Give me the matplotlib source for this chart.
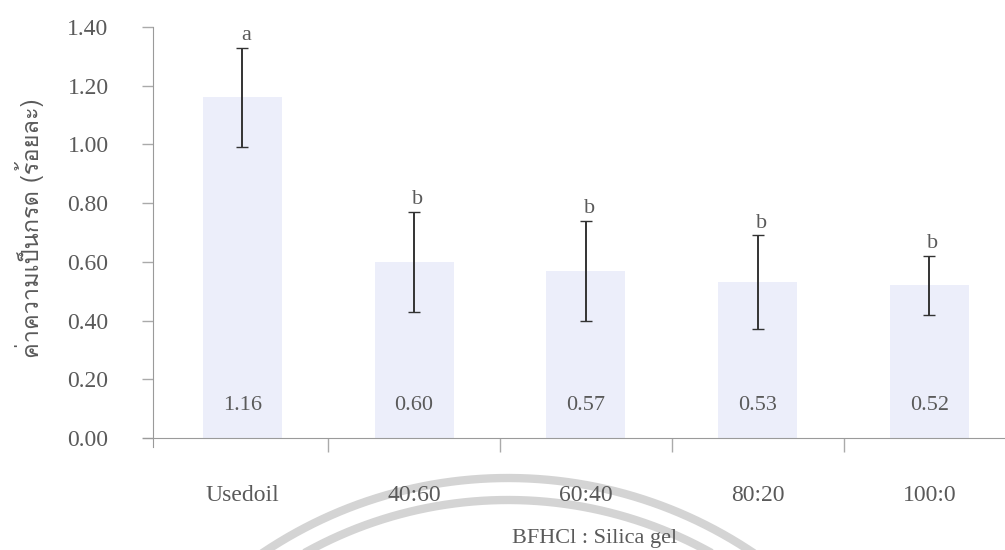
import numpy as np
import matplotlib
matplotlib.use('Agg')
import matplotlib.pyplot as plt
from matplotlib import font_manager
from matplotlib.ft2font import FT2Font

categories = ['Usedoil', '40:60', '60:40', '80:20', '100:0']
acid_value = [1.16, 0.60, 0.57, 0.53, 0.52]
error = [0.17, 0.17, 0.17, 0.16, 0.10]
letters = ['a', 'b', 'b', 'b', 'b']
value_labels = ['1.16', '0.60', '0.57', '0.53', '0.52']
y_ticks = [0.0, 0.2, 0.4, 0.6, 0.8, 1.0, 1.2, 1.4]


def thai_family():
    # pick an installed font that has Thai glyphs
    for f in font_manager.fontManager.ttflist:
        try:
            cmap = FT2Font(f.fname).get_charmap()
        except Exception:
            continue
        if ord('ค') in cmap and ord('ร') in cmap:
            return f.name
    return 'DejaVu Sans'


serif = 'Liberation Serif'
text_color = '#5a5a5a'

fig = plt.figure(figsize=(10.05, 5.5), dpi=100)
ax = fig.add_axes([153 / 1005, 112 / 550, 852 / 1005, 411 / 550])

x = np.arange(len(categories))
ax.bar(x, acid_value, width=0.46, color='#eceefa', edgecolor='none', zorder=1)
ax.errorbar(x, acid_value, yerr=error, fmt='none', ecolor='#333333',
            elinewidth=1.4, capsize=4, capthick=1.0, zorder=3)

for i in range(len(categories)):
    ax.text(x[i], 0.11, value_labels[i], ha='center', va='center',
            fontsize=16, family=serif, color=text_color)
    ax.text(x[i] + 0.02, acid_value[i] + error[i] + 0.01, letters[i],
            ha='center', va='bottom', fontsize=16, family=serif, color=text_color)

for s in ['top', 'right']:
    ax.spines[s].set_visible(False)
ax.spines['left'].set_color('#9a9a9a')
ax.spines['bottom'].set_color('#9a9a9a')

ax.set_xlim(-0.52, 4.44)
ax.set_ylim(0, 1.40)
ax.spines['left'].set_bounds(-0.03, 1.40)
ax.spines['bottom'].set_bounds(-0.58, 4.44)

ax.set_yticks(y_ticks)
ax.set_yticklabels(['%.2f' % v for v in y_ticks], family=serif, fontsize=17,
                   color=text_color)
ax.set_xticks(x)
ax.set_xticklabels(categories, family=serif, fontsize=17, color=text_color)
ax.set_xticks(x[:-1] + 0.5, minor=True)
ax.tick_params(axis='x', which='major', length=0, pad=34)
ax.tick_params(axis='x', which='minor', length=10, color='#aaaaaa', width=1)
ax.tick_params(axis='y', length=8, color='#aaaaaa', width=1, pad=24)

ax.set_ylabel('ค่าความเป็นกรด (ร้อยละ)', family=[thai_family(), 'DejaVu Sans'],
              fontsize=17, color=text_color)
ax.yaxis.set_label_coords(-0.128, 0.51)

fig.text(595 / 1005, 12 / 550, 'BFHCl : Silica gel', ha='center', va='center',
         family=serif, fontsize=16, color=text_color)

# faint watermark arcs at the bottom of the scan
t = np.linspace(np.pi * 0.85, np.pi * 0.15, 300)
for r in [439, 417]:
    px = 508 + r * np.cos(t)
    py = (550 - 917) + r * np.sin(t)
    fig.add_artist(plt.Line2D(px / 1005, py / 550, color='#d4d4d4', lw=6,
                              transform=fig.transFigure, zorder=0))

fig.savefig('out.png', dpi=100)
